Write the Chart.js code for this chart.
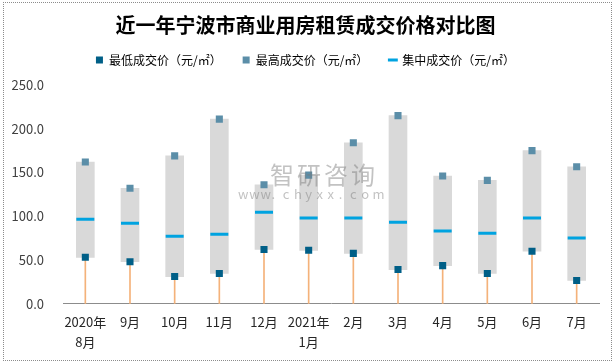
<!DOCTYPE html>
<html>
<head>
<meta charset="utf-8">
<script src="https://cdn.jsdelivr.net/npm/chart.js@4.4.1/dist/chart.umd.min.js"></script>
<style>
  html, body { margin: 0; padding: 0; background: #fff; }
  #wrap { position: relative; width: 616px; height: 364px; }
  #frame { position: absolute; left: 3px; top: 2px; width: 607px; height: 357px; border: 1px dotted #8c8c8c; pointer-events: none; }
  canvas { position: absolute; left: 0; top: 0; }
</style>
</head>
<body>
<div id="wrap">
  <canvas id="chart" width="616" height="364"></canvas>
  <div id="frame"></div>
</div>
<script>
  'use strict';

  var FONT = "'Microsoft YaHei', 'Noto Sans CJK SC', sans-serif";

  // Months, two-line labels where the year changes.
  var LABELS = [['2020年', '8月'], '9月', '10月', '11月', '12月', ['2021年', '1月'], '2月', '3月', '4月', '5月', '6月', '7月'];

  // Prices in 元/㎡.
  var MIN_PRICE = [53, 48, 31, 34.5, 62, 61, 57.5, 39, 43.5, 34.5, 60, 26.5];
  var MAX_PRICE = [162, 132, 169, 211, 136, 147, 184, 215, 146, 141, 175, 156.5];
  var MID_PRICE = [96.5, 92, 77, 79.5, 104.5, 98, 98, 93, 83, 80.5, 98, 75];

  var Y_TICKS = [0, 50, 100, 150, 200, 250];

  var COLOR_MIN = '#005F87';
  var COLOR_MAX = '#5B8EA8';
  var COLOR_MID = '#00A3E0';
  var COLOR_BOX = '#D9D9D9';
  var COLOR_DROP = '#F4B27A';

  /**
   * Faint site watermark over the middle of the plot.
   */
  var watermark = {
    id: 'watermark',
    afterDatasetsDraw: function (chart) {
      var ctx = chart.ctx;
      var i;
      var big = '智研咨询';
      var small = 'www.chyxx.com';
      ctx.save();
      ctx.fillStyle = 'rgba(120, 120, 120, 0.45)';
      ctx.textBaseline = 'middle';
      ctx.textAlign = 'left';
      ctx.font = '24px ' + FONT;
      for (i = 0; i < big.length; i++) {
        ctx.fillText(big[i], 270 + i * 27, 175);
      }
      ctx.font = '13px ' + FONT;
      for (i = 0; i < small.length; i++) {
        ctx.fillText(small[i], 238 + i * 11.2, 194);
      }
      ctx.restore();
    }
  };

  /**
   * Leave some room between the legend and the plot.
   */
  var legendGap = {
    id: 'legendGap',
    afterInit: function (chart) {
      var fit = chart.legend.fit;
      chart.legend.fit = function () {
        fit.call(this);
        this.height += 9;
      };
    }
  };

  Chart.defaults.font.family = FONT;

  new Chart(document.getElementById('chart'), {
    type: 'bar',
    data: {
      labels: LABELS,
      datasets: [{
        type: 'line',
        label: '最低成交价（元/㎡）',
        data: MIN_PRICE,
        showLine: false,
        pointStyle: 'rect',
        pointRadius: 5,
        pointBorderWidth: 0,
        pointBackgroundColor: COLOR_MIN,
        pointBorderColor: COLOR_MIN,
        order: 0
      }, {
        type: 'line',
        label: '最高成交价（元/㎡）',
        data: MAX_PRICE,
        showLine: false,
        pointStyle: 'rect',
        pointRadius: 5,
        pointBorderWidth: 0,
        pointBackgroundColor: COLOR_MAX,
        pointBorderColor: COLOR_MAX,
        order: 1
      }, {
        type: 'line',
        label: '集中成交价（元/㎡）',
        data: MID_PRICE,
        showLine: false,
        pointStyle: 'line',
        pointRadius: 9,
        pointBorderWidth: 3,
        pointBackgroundColor: COLOR_MID,
        pointBorderColor: COLOR_MID,
        order: 2
      }, {
        label: 'range',
        data: MIN_PRICE.map(function (v, i) { return [v, MAX_PRICE[i]]; }),
        backgroundColor: COLOR_BOX,
        borderWidth: 0,
        barThickness: 18,
        grouped: false,
        order: 3
      }, {
        label: 'drop',
        data: MIN_PRICE.map(function (v) { return [0, v]; }),
        backgroundColor: COLOR_DROP,
        borderWidth: 0,
        barThickness: 1,
        grouped: false,
        order: 4
      }]
    },
    options: {
      responsive: false,
      animation: false,
      events: [],
      layout: {
        padding: { left: 12, right: 17, top: 0, bottom: 4 }
      },
      plugins: {
        title: {
          display: true,
          text: '近一年宁波市商业用房租赁成交价格对比图',
          color: '#000',
          font: { size: 20, weight: 'bold', lineHeight: 0.8 },
          padding: { top: 17, bottom: 0 }
        },
        legend: {
          position: 'top',
          labels: {
            usePointStyle: true,
            boxWidth: 7,
            boxHeight: 7,
            padding: 21,
            color: '#000',
            font: { size: 12 },
            filter: function (item) {
              return item.datasetIndex < 3;
            }
          }
        },
        tooltip: { enabled: false }
      },
      scales: {
        x: {
          grid: { display: false, drawTicks: false },
          border: { display: true, color: '#8c8c8c', width: 1, dash: [2, 1] },
          ticks: {
            color: '#262626',
            padding: 8,
            maxRotation: 0,
            autoSkip: false,
            font: { size: 13, lineHeight: 1.55 }
          }
        },
        y: {
          min: 0,
          max: 250,
          grid: { display: false, drawTicks: false },
          border: { display: false },
          afterBuildTicks: function (axis) {
            axis.ticks = Y_TICKS.map(function (v) { return { value: v }; });
          },
          afterFit: function (axis) {
            axis.width = 51;
          },
          ticks: {
            color: '#404040',
            padding: 19,
            font: { size: 13 },
            callback: function (v) { return Number(v).toFixed(1); }
          }
        }
      }
    },
    plugins: [watermark, legendGap]
  });
</script>
</body>
</html>
